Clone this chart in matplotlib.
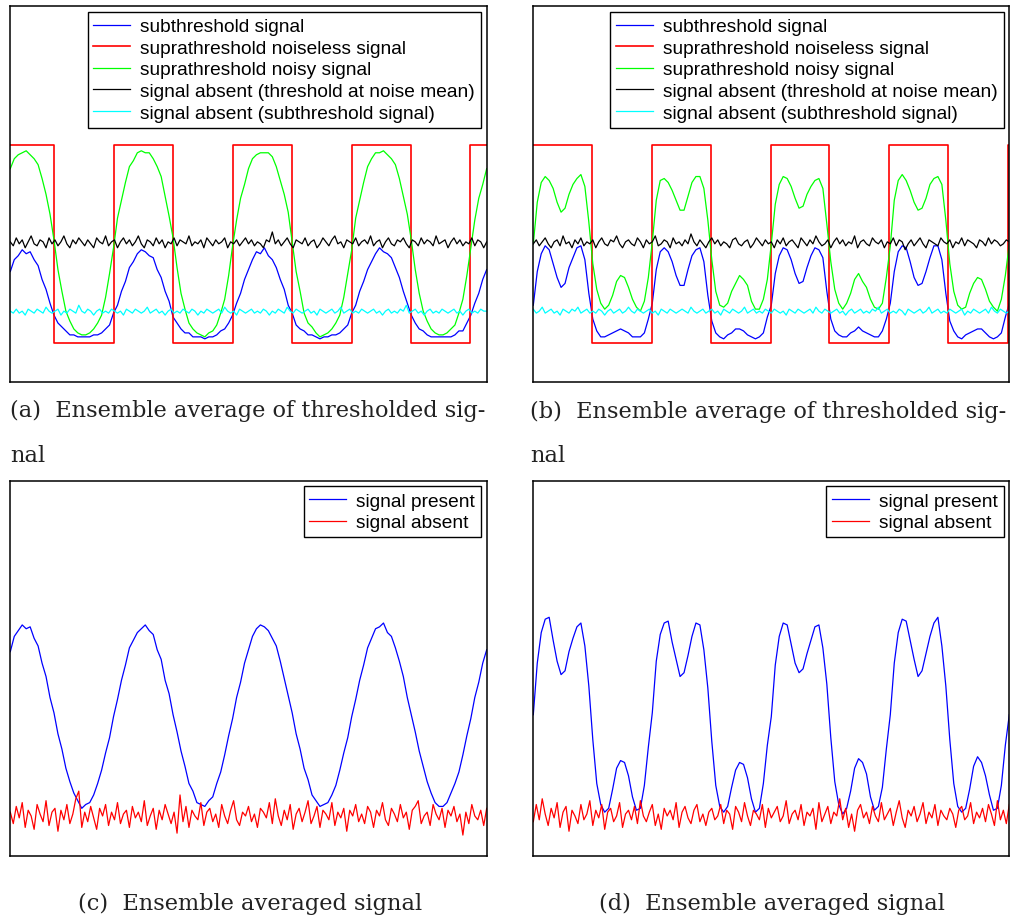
import numpy as np
import matplotlib
matplotlib.use("Agg")
import matplotlib.pyplot as plt

# =====================================================
# DATA  (a, b in percent of trials above threshold,
#        c, d in percent of the peak averaged signal)
# =====================================================

labels_ab = [
    "subthreshold signal",
    "suprathreshold noiseless signal",
    "suprathreshold noisy signal",
    "signal absent (threshold at noise mean)",
    "signal absent (subthreshold signal)",
]
labels_cd = ["signal present", "signal absent"]

captions = [
    "(a)  Ensemble average of thresholded sig-\nnal",
    "(b)  Ensemble average of thresholded sig-\nnal",
    "(c)  Ensemble averaged signal",
    "(d)  Ensemble averaged signal",
]

# square wave switching times (fraction of record) and levels
red_a_edges = [0.0, 0.0924, 0.2183, 0.3421, 0.4681, 0.5919, 0.7166, 0.8405, 0.9650, 1.0]
red_a_levels = [100, 0, 100, 0, 100, 0, 100, 0, 100, 100]
red_b_edges = [0.0, 0.1227, 0.2500, 0.3727, 0.4987, 0.6218, 0.7480, 0.8718, 0.9979, 1.0]
red_b_levels = [100, 0, 100, 0, 100, 0, 100, 0, 100, 100]

blue_a = [
    36, 42, 44, 47, 45, 46, 42, 39, 32, 27, 20, 14, 10, 8, 6, 4, 4, 3, 3, 3, 3, 4, 4, 5, 7, 9, 15, 19, 26, 31,
    38, 41, 45, 47, 46, 44, 43, 37, 33, 26, 21, 13, 10, 7, 5, 5, 3, 3, 3, 2, 3, 3, 4, 6, 7, 10, 14, 20, 25, 32,
    37, 42, 46, 45, 48, 44, 42, 38, 32, 27, 19, 15, 9, 7, 6, 4, 4, 3, 2, 3, 3, 4, 4, 5, 7, 9, 15, 19, 26, 31,
    37, 41, 45, 48, 46, 45, 43, 38, 33, 26, 20, 14, 10, 7, 6, 4, 3, 3, 3, 3, 3, 3, 4, 6, 6, 10, 14, 20, 25, 32,
    37,
]
green_a = [
    88, 93, 95, 96, 97, 95, 93, 90, 83, 75, 65, 52, 37, 26, 16, 11, 7, 5, 4, 4, 5, 7, 10, 14, 23, 35, 48, 63, 72, 81,
    89, 92, 96, 97, 96, 96, 93, 89, 84, 74, 64, 53, 38, 25, 17, 10, 7, 5, 4, 3, 5, 6, 9, 15, 22, 34, 49, 62, 73, 80,
    88, 93, 95, 96, 96, 96, 94, 89, 82, 75, 66, 51, 36, 26, 15, 10, 8, 5, 3, 4, 5, 7, 10, 14, 23, 35, 47, 63, 72, 81,
    89, 93, 96, 96, 97, 95, 93, 90, 83, 74, 65, 52, 37, 25, 16, 11, 7, 5, 4, 4, 5, 7, 9, 15, 22, 34, 48, 62, 73, 80,
    88,
]
black_a = [
    51, 49, 53, 50, 52, 48, 51, 54, 50, 49, 52, 51, 48, 53, 50, 52, 49, 51, 54, 50,
    48, 52, 50, 53, 51, 49, 52, 50, 48, 53, 51, 50, 54, 49, 51, 52, 48, 51, 53, 50,
    52, 49, 51, 54, 50, 48, 52, 51, 49, 53, 50, 52, 48, 51, 50, 53, 49, 52, 51, 50,
    54, 49, 51, 50, 52, 48, 53, 51, 49, 52, 50, 51, 53, 48, 51, 50, 52, 49, 51, 53,
    50, 52, 49, 51, 50, 48, 52, 51, 56, 50, 52, 49, 51, 53, 50, 48, 52, 51, 50, 53,
    49, 51, 52, 48, 50, 53, 51, 49, 52, 54, 50, 51, 48, 52, 51, 50, 53, 49, 51, 52,
    50, 54, 49, 51, 52, 48, 51, 53, 50, 49, 52, 51, 53, 50, 48, 52, 51, 49, 53, 50,
    52, 51, 49, 54, 50, 51, 52, 48, 51, 53, 50, 52, 49, 51, 50, 53, 49, 52, 51, 48, 51,
]
cyan_a = [
    16, 15, 17, 15, 16, 14, 17, 16, 15, 17, 16, 15, 18, 16, 15, 16, 17, 14, 16, 15,
    17, 16, 15, 19, 16, 15, 17, 16, 14, 16, 17, 15, 16, 15, 17, 16, 15, 16, 14, 17,
    16, 15, 17, 16, 15, 16, 18, 15, 16, 17, 15, 16, 14, 16, 17, 15, 16, 15, 17, 16,
    15, 17, 16, 14, 16, 15, 17, 16, 15, 16, 17, 15, 18, 16, 15, 16, 14, 17, 16, 15,
    16, 17, 15, 16, 15, 17, 16, 14, 16, 15, 17, 16, 15, 18, 16, 15, 17, 16, 15, 16,
    17, 15, 16, 14, 17, 16, 15, 16, 17, 15, 16, 18, 15, 16, 17, 15, 16, 15, 17, 16,
    15, 16, 17, 15, 16, 14, 16, 17, 15, 16, 15, 17, 16, 19, 15, 16, 17, 15, 16, 14,
    16, 17, 15, 16, 15, 17, 16, 15, 16, 17, 15, 16, 14, 16, 17, 15, 16, 15, 17, 16, 16,
]

blue_b = [
    19, 36, 45, 49, 47, 40, 33, 28, 30, 38, 43, 48, 49, 42, 25, 12, 6, 3, 3, 4, 5, 6, 7, 6, 5, 3, 3, 3, 5, 12,
    20, 37, 46, 48, 46, 41, 34, 29, 29, 37, 44, 47, 48, 41, 24, 11, 5, 3, 2, 4, 5, 7, 7, 6, 4, 3, 2, 3, 5, 13,
    19, 35, 44, 48, 47, 42, 35, 30, 31, 38, 44, 48, 47, 43, 26, 12, 6, 4, 3, 3, 5, 6, 8, 6, 5, 4, 3, 3, 6, 12,
    20, 36, 46, 49, 48, 41, 33, 29, 30, 36, 43, 49, 49, 42, 25, 11, 6, 3, 2, 4, 5, 6, 7, 7, 5, 3, 2, 3, 5, 13,
    20,
]
green_b = [
    50, 71, 81, 84, 82, 78, 71, 66, 68, 75, 80, 83, 85, 79, 61, 40, 27, 20, 17, 19, 24, 31, 34, 33, 28, 22, 18, 16, 21, 33,
    51, 72, 82, 83, 81, 77, 72, 67, 67, 74, 81, 84, 84, 78, 62, 42, 26, 19, 18, 20, 26, 30, 34, 32, 29, 21, 17, 17, 22, 32,
    50, 70, 80, 84, 83, 79, 73, 68, 69, 75, 79, 82, 83, 78, 60, 41, 27, 20, 17, 20, 25, 32, 35, 31, 28, 22, 18, 17, 20, 33,
    49, 72, 82, 85, 82, 77, 71, 67, 68, 73, 80, 83, 84, 80, 62, 40, 26, 19, 17, 18, 25, 30, 33, 32, 27, 21, 18, 16, 22, 34,
    50,
]
black_b = [
    50, 52, 49, 51, 53, 50, 48, 51, 52, 49, 54, 50, 51, 48, 52, 50, 53, 49, 51, 50,
    52, 48, 51, 53, 50, 49, 52, 51, 54, 50, 48, 51, 52, 50, 49, 53, 51, 48, 52, 50,
    51, 54, 49, 50, 52, 51, 48, 53, 50, 51, 49, 52, 50, 55, 51, 49, 52, 50, 48, 51,
    53, 50, 52, 49, 51, 50, 48, 52, 53, 50, 49, 51, 52, 48, 50, 53, 51, 49, 52, 50,
    51, 48, 52, 50, 53, 49, 51, 52, 50, 48, 53, 51, 49, 52, 50, 54, 51, 49, 50, 52,
    48, 51, 53, 50, 52, 49, 51, 50, 54, 48, 51, 52, 50, 49, 53, 51, 50, 52, 48, 51,
    50, 53, 49, 52, 51, 47, 50, 52, 49, 51, 53, 50, 48, 52, 51, 50, 49, 53, 51, 50,
    52, 48, 51, 50, 53, 49, 52, 51, 50, 48, 52, 51, 49, 53, 50, 52, 51, 49, 50, 52, 51,
]
cyan_b = [
    17, 15, 16, 18, 15, 16, 17, 15, 16, 14, 17, 16, 15, 17, 16, 18, 15, 16, 17, 15,
    16, 15, 17, 16, 14, 16, 17, 15, 16, 17, 15, 16, 18, 16, 15, 17, 16, 15, 16, 17,
    15, 16, 14, 17, 16, 15, 17, 16, 15, 16, 17, 16, 15, 18, 16, 15, 16, 17, 15, 16,
    17, 15, 16, 14, 17, 16, 15, 17, 16, 15, 16, 18, 15, 16, 17, 15, 16, 15, 17, 16,
    15, 17, 16, 15, 16, 14, 17, 16, 15, 17, 16, 15, 16, 17, 15, 18, 16, 15, 17, 16,
    15, 16, 17, 15, 16, 14, 16, 17, 15, 16, 17, 15, 16, 15, 17, 16, 18, 15, 16, 17,
    15, 16, 15, 17, 16, 14, 17, 16, 15, 16, 17, 15, 16, 18, 15, 16, 17, 15, 16, 15,
    17, 16, 15, 16, 17, 14, 16, 15, 17, 16, 15, 16, 17, 15, 18, 16, 15, 17, 16, 15, 16,
]

blue_c = [
    86, 94, 97, 100, 98, 99, 93, 89, 80, 73, 62, 54, 43, 35, 25, 18, 12, 8, 4, 6, 7, 11, 17, 24, 33, 41, 52, 61, 71, 79,
    88, 92, 96, 98, 100, 97, 95, 87, 82, 71, 64, 53, 44, 34, 26, 17, 13, 7, 6, 5, 8, 10, 17, 23, 32, 42, 51, 62, 70, 80,
    87, 94, 98, 100, 99, 97, 93, 89, 81, 72, 63, 54, 43, 35, 25, 19, 11, 8, 5, 6, 7, 11, 16, 24, 33, 41, 52, 61, 71, 79,
    88, 93, 98, 99, 101, 96, 94, 88, 81, 73, 62, 53, 44, 34, 26, 18, 12, 7, 5, 5, 7, 12, 17, 23, 32, 42, 51, 62, 70, 80,
    87,
]
red_c = [
    2, -4, 5, -1, 7, -6, 3, 0, -7, 6, 1, -3, 8, -5, 2, 4, -8, 3, -2, 6,
    -4, 1, 9, 13, -6, 2, -3, 5, -1, -7, 4, 0, 6, -5, 2, -2, 7, -4, 1, 3,
    -6, 5, -1, 2, -3, 8, -5, 0, 4, -7, 3, -2, 6, 1, -4, 2, -9, 11, -3, 5,
    -6, 3, 0, -2, 7, -5, 2, 4, -3, 1, -6, 6, 0, -4, 3, 8, -2, -5, 2, 0,
    5, -3, 1, -6, 4, 2, -1, 7, -4, 9, 0, -5, 3, -2, 6, -7, 1, 4, -3, 2,
    8, -4, 0, 5, -6, 3, 1, -2, 7, -5, 2, -1, 4, -8, 3, 0, 6, -3, 1, -4,
    5, 2, -6, 3, 0, 7, -2, -5, 4, 1, -3, 6, -1, 2, -7, 3, 5, 8, -4, 0,
    2, -5, 6, 1, -2, 4, -6, 3, 0, 5, -3, 1, -10, 2, -4, 6, 0, -2, 3, -5, 4,
]

blue_d = [
    53, 80, 96, 103, 104, 92, 81, 74, 76, 86, 93, 99, 101, 89, 68, 40, 17, 6, 2, 4, 14, 25, 29, 28, 21, 10, 3, 4, 16, 36,
    54, 81, 95, 101, 102, 91, 82, 73, 75, 84, 94, 101, 100, 87, 67, 39, 16, 5, 2, 5, 15, 24, 28, 27, 20, 9, 2, 4, 17, 37,
    52, 79, 94, 101, 100, 90, 80, 75, 77, 85, 92, 99, 100, 88, 69, 41, 18, 6, 1, 4, 13, 25, 30, 28, 22, 10, 3, 5, 15, 35,
    53, 80, 96, 103, 102, 92, 82, 73, 76, 85, 94, 101, 104, 89, 68, 40, 17, 5, 2, 4, 14, 26, 31, 28, 21, 11, 3, 4, 16, 37,
    53,
]
red_d = [
    -3, 6, -2, 9, 1, -5, 4, -1, 7, -6, 2, 5, -8, 3, 0, -4, 6, -2, 1, 8,
    -5, 3, -1, 6, -7, 2, 4, -3, 0, 7, -6, 1, 3, -2, 5, -4, 8, 0, -3, 2,
    6, -5, 1, -7, 4, 0, 3, -2, 7, -6, 2, 5, -1, -4, 3, 6, -3, 1, -5, 2,
    4, -2, 0, 6, -4, 3, 1, -7, 5, 2, -3, 7, 0, -5, 3, 1, -2, 6, -6, 4,
    -1, 2, 5, -3, 0, 8, -4, 1, 3, -2, 6, -5, 2, 0, 4, -7, 7, -3, 1, 5,
    -4, 2, 0, 9, -2, 4, -6, 1, -8, 3, 6, -1, 2, -4, 5, 0, -3, 7, -2, 1,
    4, -5, 2, 8, -1, -6, 3, 0, 5, -3, 1, 7, -4, 2, -1, 6, -5, 3, 0, -2,
    4, 1, -6, 3, 5, -2, 0, 7, -4, 2, -1, 4, -3, 6, 1, -5, 8, -2, 3, -4, 6,
]

# =====================================================
# FIGURE
# =====================================================

W, H = 1011, 920
fig = plt.figure(figsize=(W / 100, H / 100), dpi=100)

legend_font = {"family": "Liberation Sans", "size": 13.8}
caption_font = {"family": "DejaVu Serif", "size": 16.2}


def panel(left_px, top_px, w_px=476.4, h_px=375.5):
    ax = fig.add_axes([left_px / W, 1 - (top_px + h_px) / H, w_px / W, h_px / H])
    ax.set_xticks([])
    ax.set_yticks([])
    for s in ax.spines.values():
        s.set_linewidth(1.1)
    ax.set_xlim(0, 1)
    return ax


def t(values):
    return np.linspace(0, 1, len(values))


def add_legend(ax):
    leg = ax.legend(
        loc="upper right", prop=legend_font, fancybox=False, framealpha=1,
        edgecolor="black", borderpad=0.3, labelspacing=0.22,
        handlelength=1.9, handletextpad=0.55, borderaxespad=0.3,
    )
    leg.get_frame().set_linewidth(1.0)


lw = 0.9

# ---------------- (a) ----------------
ax_a = panel(10.3, 7.3)
ax_a.plot(t(blue_a), blue_a, color="#0000ff", lw=lw, label=labels_ab[0])
ax_a.plot(red_a_edges, red_a_levels, color="#ff0000", lw=1.2, drawstyle="steps-post", label=labels_ab[1])
ax_a.plot(t(green_a), green_a, color="#00ff00", lw=lw, label=labels_ab[2])
ax_a.plot(t(black_a), black_a, color="black", lw=lw, label=labels_ab[3])
ax_a.plot(t(cyan_a), cyan_a, color="#00ffff", lw=lw, label=labels_ab[4])
ax_a.set_ylim(-19.7, 170)
add_legend(ax_a)

# ---------------- (b) ----------------
ax_b = panel(533.3, 7.3, w_px=476)
ax_b.plot(t(blue_b), blue_b, color="#0000ff", lw=lw, label=labels_ab[0])
ax_b.plot(red_b_edges, red_b_levels, color="#ff0000", lw=1.2, drawstyle="steps-post", label=labels_ab[1])
ax_b.plot(t(green_b), green_b, color="#00ff00", lw=lw, label=labels_ab[2])
ax_b.plot(t(black_b), black_b, color="black", lw=lw, label=labels_ab[3])
ax_b.plot(t(cyan_b), cyan_b, color="#00ffff", lw=lw, label=labels_ab[4])
ax_b.set_ylim(-19.7, 170)
add_legend(ax_b)

# ---------------- (c) ----------------
ax_c = panel(10.3, 481.7, h_px=375)
ax_c.plot(t(blue_c), blue_c, color="#0000ff", lw=lw, label=labels_cd[0])
ax_c.plot(t(red_c), red_c, color="#ff0000", lw=lw, label=labels_cd[1])
ax_c.set_ylim(-20.8, 175.5)
add_legend(ax_c)

# ---------------- (d) ----------------
ax_d = panel(533.3, 481.7, w_px=476, h_px=375)
ax_d.plot(t(blue_d), blue_d, color="#0000ff", lw=lw, label=labels_cd[0])
ax_d.plot(t(red_d), red_d, color="#ff0000", lw=lw, label=labels_cd[1])
ax_d.set_ylim(-20.8, 175.5)
add_legend(ax_d)

# =====================================================
# CAPTIONS
# =====================================================

cap_color = "#222222"
fig.text(10 / W, 1 - 417.5 / H, captions[0].split("\n")[0], ha="left", va="baseline", fontdict=caption_font, color=cap_color)
fig.text(10 / W, 1 - 461.7 / H, captions[0].split("\n")[1], ha="left", va="baseline", fontdict=caption_font, color=cap_color)
fig.text(530 / W, 1 - 418.3 / H, captions[1].split("\n")[0], ha="left", va="baseline", fontdict=caption_font, color=cap_color)
fig.text(530 / W, 1 - 461.7 / H, captions[1].split("\n")[1], ha="left", va="baseline", fontdict=caption_font, color=cap_color)
fig.text(250 / W, 1 - 910 / H, captions[2], ha="center", va="baseline", fontdict=caption_font, color=cap_color)
fig.text(771.7 / W, 1 - 910 / H, captions[3], ha="center", va="baseline", fontdict=caption_font, color=cap_color)

fig.savefig("out.png", dpi=100)
